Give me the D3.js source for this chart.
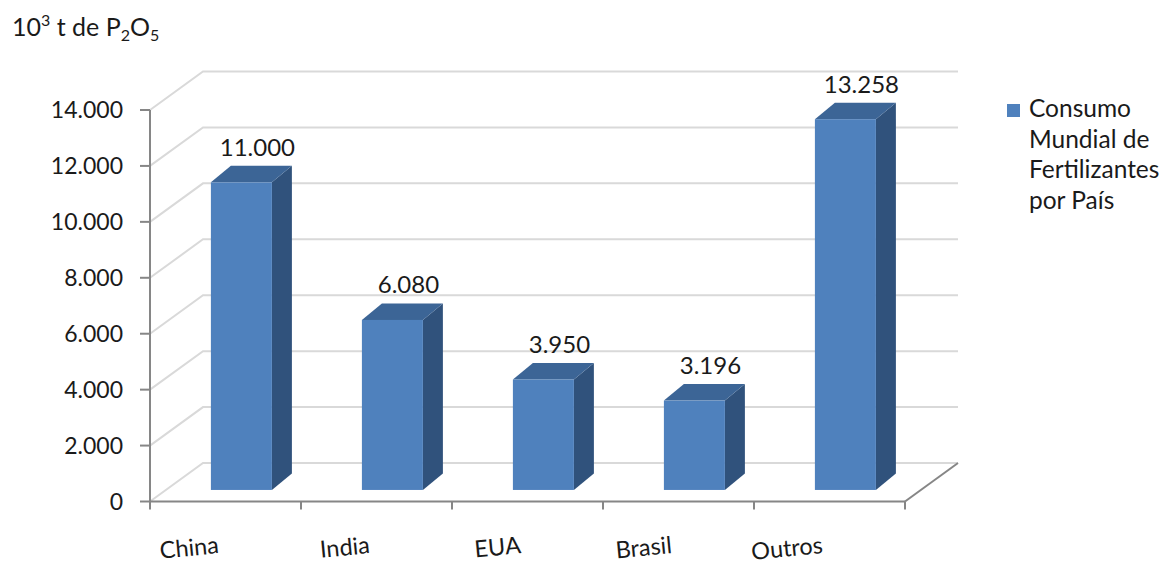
<!DOCTYPE html>
<html>
<head>
<meta charset="utf-8">
<script src="https://cdn.jsdelivr.net/npm/d3@7/dist/d3.min.js"></script>
<style>
  html, body { margin: 0; padding: 0; background: #fff; }
  svg { display: block; }
  text { font-family: Lato, "Open Sans", sans-serif; fill: #1a1a1a; }
</style>
</head>
<body>
<svg id="chart" width="1162" height="565"></svg>
<script>
// Consumo mundial de fertilizantes fosfatados por país (10³ t de P2O5)
const categories = ["China", "India", "EUA", "Brasil", "Outros"];
const values = [11000, 6080, 3950, 3196, 13258];
const yTicks = [0, 2000, 4000, 6000, 8000, 10000, 12000, 14000];
const seriesName = ["Consumo", "Mundial de", "Fertilizantes", "por País"];

const svg = d3.select("#chart");
const fmt = v => d3.format(",")(v).replace(/,/g, ".");

// Plot frame (front plane) and oblique depth of the 3D box
const plotLeft = 150, plotRight = 905, plotBottom = 501.5, plotTop = 110;
const depth = [53, -38.5];          // floor front edge -> back wall
const barFront = 0.3;               // bar front face position inside the depth
const barDepth = [20, -16.5];       // thickness of each 3D column

const x = d3.scaleBand().domain(categories).range([plotLeft, plotRight])
  .paddingInner(0.596).paddingOuter(0.298);
const y = d3.scaleLinear().domain([0, 14000]).range([plotBottom, plotTop]);

const gridColor = "#d9d9d9", axisColor = "#868686";

// Walls: gridlines on side wall and back wall
const grid = svg.append("g");
yTicks.forEach(t => {
  const y0 = y(t);
  grid.append("path")
    .attr("d", `M${plotLeft},${y0} L${plotLeft + depth[0]},${y0 + depth[1]} L${plotRight + depth[0]},${y0 + depth[1]}`)
    .attr("fill", "none").attr("stroke", gridColor).attr("stroke-width", 2);
});
// Right edge of the floor
svg.append("line")
  .attr("x1", plotRight).attr("y1", plotBottom)
  .attr("x2", plotRight + depth[0]).attr("y2", plotBottom + depth[1])
  .attr("stroke", axisColor).attr("stroke-width", 2);

// Value axis
const yAxis = svg.append("g");
yAxis.append("line").attr("x1", plotLeft).attr("x2", plotLeft).attr("y1", plotTop).attr("y2", plotBottom)
  .attr("stroke", axisColor).attr("stroke-width", 2);
yTicks.forEach(t => {
  yAxis.append("line").attr("x1", plotLeft - 10).attr("x2", plotLeft).attr("y1", y(t)).attr("y2", y(t))
    .attr("stroke", axisColor).attr("stroke-width", 2);
  yAxis.append("text").attr("x", 123).attr("y", y(t)).attr("dy", "0.36em")
    .attr("text-anchor", "end").attr("font-size", 23).text(fmt(t));
});

// Category axis
const xAxis = svg.append("g");
xAxis.append("line").attr("x1", plotLeft).attr("x2", plotRight).attr("y1", plotBottom).attr("y2", plotBottom)
  .attr("stroke", axisColor).attr("stroke-width", 2);
const step = x.step();
d3.range(categories.length + 1).forEach(i => {
  const xt = plotLeft + i * step;
  xAxis.append("line").attr("x1", xt).attr("x2", xt).attr("y1", plotBottom).attr("y2", plotBottom + 8)
    .attr("stroke", axisColor).attr("stroke-width", 2);
});
categories.forEach(c => {
  const cx = x(c) + x.bandwidth() / 2 - 6;
  xAxis.append("text")
    .attr("transform", `translate(${cx},553) rotate(-5.5)`)
    .attr("text-anchor", "end").attr("font-size", 23.5).text(c);
});

// 3D columns
const fx = depth[0] * barFront, fy = depth[1] * barFront;
const bw = x.bandwidth();
const colors = { front: "#4f81bd", top: "#3c6596", side: "#30527c" };
const bars = svg.append("g");
categories.forEach((c, i) => {
  const x0 = x(c) + fx, x1 = x0 + bw;
  const yb = y(0) + fy, yt = y(values[i]) + fy;
  const [dx, dy] = barDepth;
  bars.append("path")
    .attr("d", `M${x1},${yt} L${x1 + dx},${yt + dy} L${x1 + dx},${yb + dy} L${x1},${yb} Z`)
    .attr("fill", colors.side);
  bars.append("path")
    .attr("d", `M${x0},${yt} L${x0 + dx},${yt + dy} L${x1 + dx},${yt + dy} L${x1},${yt} Z`)
    .attr("fill", colors.top);
  bars.append("rect")
    .attr("x", x0).attr("y", yt).attr("width", bw).attr("height", yb - yt)
    .attr("fill", colors.front);
  bars.append("text")
    .attr("x", x0 + bw / 2 + 16).attr("y", yt + dy - 10)
    .attr("text-anchor", "middle").attr("font-size", 24).text(fmt(values[i]));
});

// Axis title: 10³ t de P₂O₅
const title = svg.append("text").attr("x", 12).attr("y", 36).attr("font-size", 25);
title.append("tspan").text("10");
title.append("tspan").attr("font-size", 16).attr("dy", -10).text("3");
title.append("tspan").attr("dy", 10).text(" t de P");
title.append("tspan").attr("font-size", 16).attr("dy", 5).text("2");
title.append("tspan").attr("dy", -5).text("O");
title.append("tspan").attr("font-size", 16).attr("dy", 5).text("5");

// Legend
const legend = svg.append("g");
legend.append("rect").attr("x", 1007).attr("y", 104).attr("width", 13).attr("height", 13)
  .attr("fill", colors.front);
seriesName.forEach((line, i) => {
  legend.append("text").attr("x", 1029).attr("y", 117 + i * 30.5)
    .attr("font-size", 24.5).text(line);
});
</script>
</body>
</html>
